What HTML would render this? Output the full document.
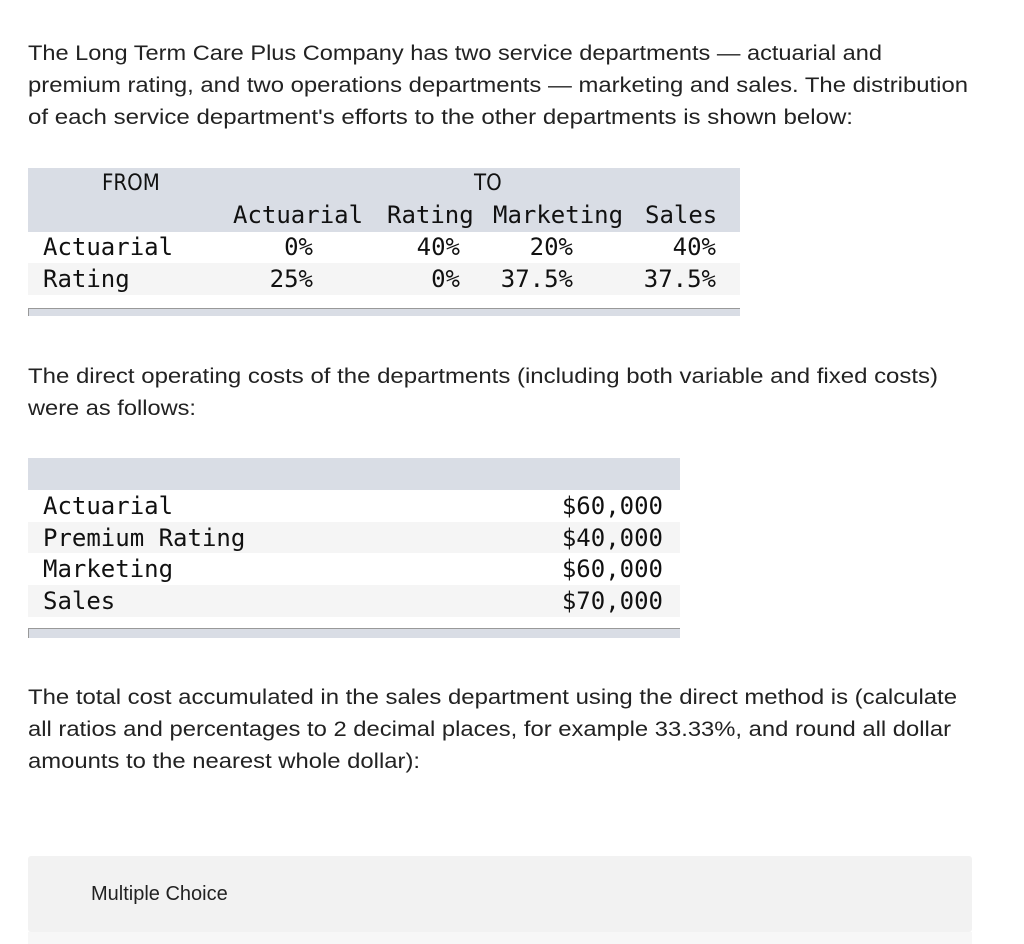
<!DOCTYPE html>
<html><head><meta charset="utf-8">
<style>
body{margin:0;width:1024px;height:944px;background:#fff;position:relative;overflow:hidden;font-family:"Liberation Sans",sans-serif;color:#222}
.t{position:absolute;left:28px;white-space:nowrap;font-size:21px;line-height:32px;transform-origin:0 50%}
.m{position:absolute;white-space:nowrap;font-family:"DejaVu Sans Mono","Liberation Mono",monospace;font-size:24px;line-height:32px;color:#111}
.r{text-align:right}
.bg{position:absolute}
</style></head><body>
<div class="t" data-fit="882" style="top:38px">The Long Term Care Plus Company has two service departments — actuarial and</div>
<div class="t" data-fit="968" style="top:70px">premium rating, and two operations departments — marketing and sales. The distribution</div>
<div class="t" data-fit="853" style="top:102px">of each service department's efforts to the other departments is shown below:</div>

<div>
<div class="bg" style="left:28px;top:168px;width:712px;height:64px;background:#d9dde5"></div>
<div class="bg" style="left:28px;top:263px;width:712px;height:32px;background:#f5f5f5"></div>
<div class="bg" style="left:28px;top:308px;width:712px;height:8px;background:#d9dde5;border-top:1px solid #999;border-left:1px solid #999;box-sizing:border-box"></div>
<div class="m" style="left:102px;top:168px;font-family:'DejaVu Sans Condensed',sans-serif;font-size:22px">FROM</div>
<div class="m" style="left:474px;top:168px;font-family:'DejaVu Sans Condensed',sans-serif;font-size:22px">TO</div>
<div class="m" style="left:233px;top:199px">Actuarial</div>
<div class="m" style="left:387px;top:199px">Rating</div>
<div class="m" style="left:493px;top:199px">Marketing</div>
<div class="m" style="left:645px;top:199px">Sales</div>
<div class="m" style="left:43px;top:231px">Actuarial</div>
<div class="m r" style="right:711px;top:231px">0%</div>
<div class="m r" style="right:564px;top:231px">40%</div>
<div class="m r" style="right:451px;top:231px">20%</div>
<div class="m r" style="right:308px;top:231px">40%</div>
<div class="m" style="left:43px;top:263px">Rating</div>
<div class="m r" style="right:711px;top:263px">25%</div>
<div class="m r" style="right:564px;top:263px">0%</div>
<div class="m r" style="right:451px;top:263px">37.5%</div>
<div class="m r" style="right:308px;top:263px">37.5%</div>
</div>

<div class="t" data-fit="938" style="top:361px">The direct operating costs of the departments (including both variable and fixed costs)</div>
<div class="t" data-fit="196" style="top:393px">were as follows:</div>

<div>
<div class="bg" style="left:28px;top:458px;width:652px;height:32px;background:#d9dde5"></div>
<div class="bg" style="left:28px;top:522px;width:652px;height:31px;background:#f5f5f5"></div>
<div class="bg" style="left:28px;top:585px;width:652px;height:32px;background:#f5f5f5"></div>
<div class="bg" style="left:28px;top:628px;width:652px;height:10px;background:#d9dde5;border-top:1px solid #999;border-left:1px solid #999;box-sizing:border-box"></div>
<div class="m" style="left:43px;top:490px">Actuarial</div>
<div class="m" style="left:43px;top:522px">Premium Rating</div>
<div class="m" style="left:43px;top:553px">Marketing</div>
<div class="m" style="left:43px;top:585px">Sales</div>
<div class="m r" style="right:361px;top:490px">$60,000</div>
<div class="m r" style="right:361px;top:522px">$40,000</div>
<div class="m r" style="right:361px;top:553px">$60,000</div>
<div class="m r" style="right:361px;top:585px">$70,000</div>
</div>

<div class="t" data-fit="957" style="top:682px">The total cost accumulated in the sales department using the direct method is (calculate</div>
<div class="t" data-fit="951" style="top:714px">all ratios and percentages to 2 decimal places, for example 33.33%, and round all dollar</div>
<div class="t" data-fit="420" style="top:746px">amounts to the nearest whole dollar):</div>

<div class="bg" style="left:28px;top:856px;width:944px;height:76px;background:#f2f2f2;border-radius:3px">
<div style="position:absolute;left:63px;top:27px;font-size:20px;color:#222">Multiple Choice</div>
</div>
<div class="bg" style="left:28px;top:932px;width:944px;height:12px;background:#f7f7f7"></div>
<script>
document.querySelectorAll('[data-fit]').forEach(function(el){
  var w=el.getBoundingClientRect().width, target=+el.getAttribute('data-fit')-28;
  if(w>0) el.style.transform='scaleX('+(target/w)+')';
});
</script>
</body></html>
